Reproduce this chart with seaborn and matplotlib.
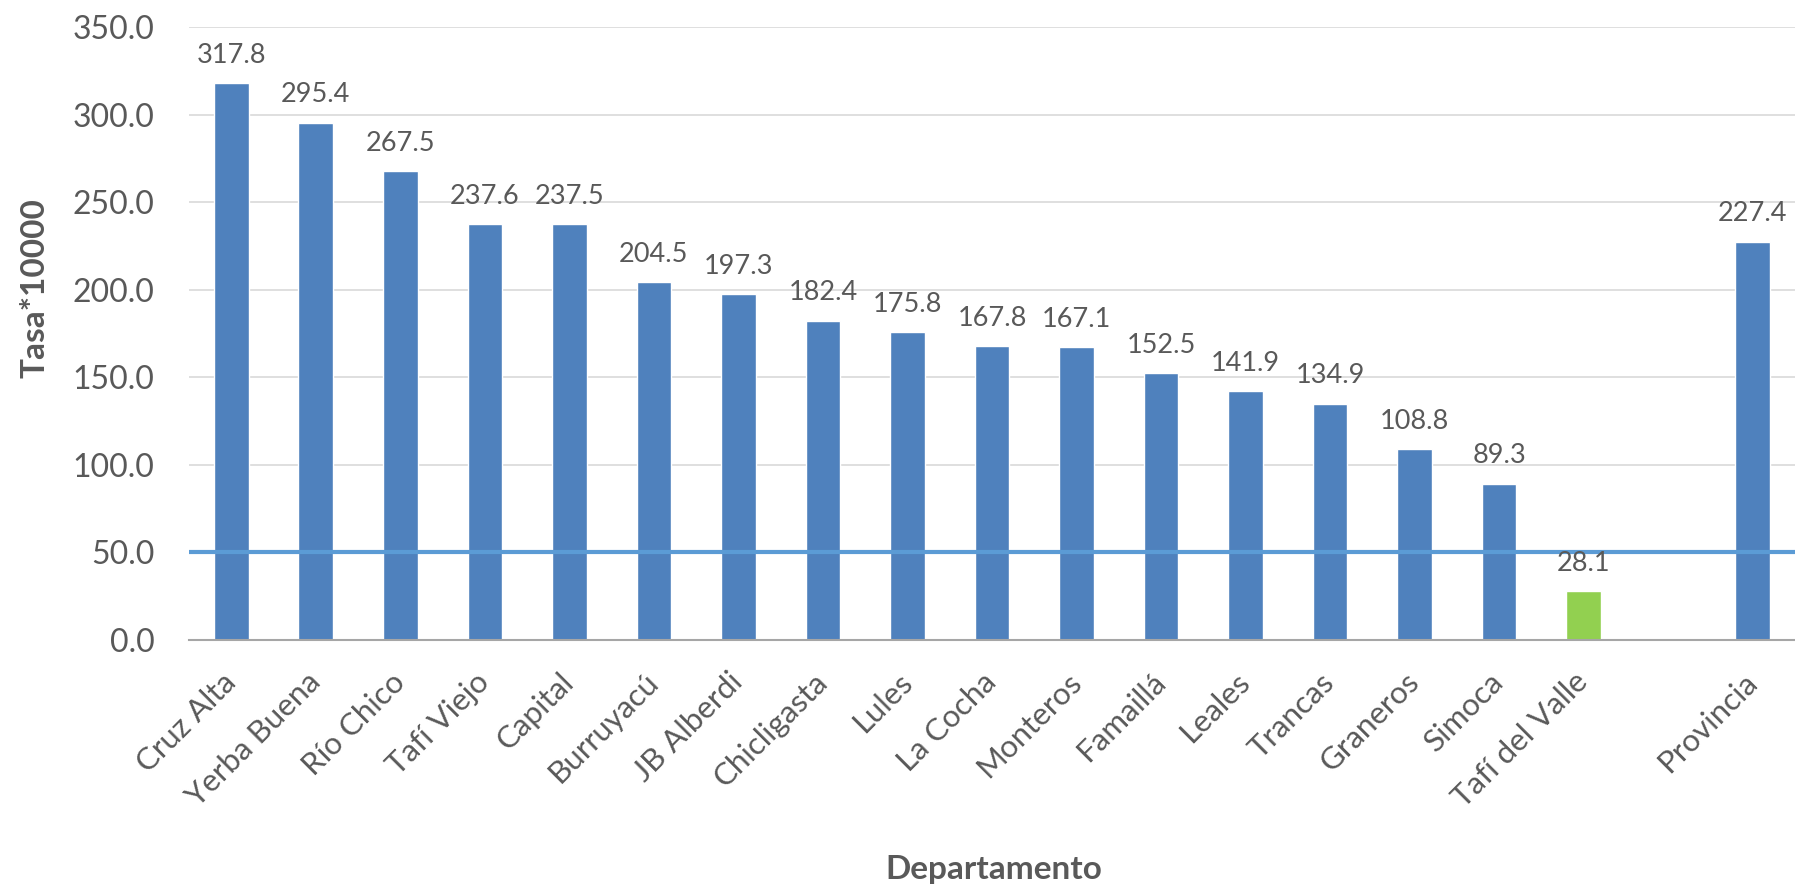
import pandas as pd
import numpy as np
import matplotlib
matplotlib.use("Agg")
import matplotlib.pyplot as plt
import seaborn as sns

departamentos = ["Cruz Alta", "Yerba Buena", "Río Chico", "Tafí Viejo", "Capital",
                 "Burruyacú", "JB Alberdi", "Chicligasta", "Lules", "La Cocha",
                 "Monteros", "Famaillá", "Leales", "Trancas", "Graneros", "Simoca",
                 "Tafí del Valle", "Provincia"]
tasas = [317.8, 295.4, 267.5, 237.6, 237.5, 204.5, 197.3, 182.4, 175.8, 167.8,
         167.1, 152.5, 141.9, 134.9, 108.8, 89.3, 28.1, 227.4]
orden = departamentos[:-1] + [""] + ["Provincia"]
linea_ref = 50.0

azul = "#4F81BD"
verde = "#92D050"
gris = "#595959"
colores = {d: (verde if d == "Tafí del Valle" else azul) for d in departamentos}

data = pd.DataFrame({"Departamento": departamentos, "Tasa": tasas})

sns.set_style("white")
plt.rcParams["font.family"] = ["Lato", "DejaVu Sans"]

fig = plt.figure(figsize=(17.95, 8.85), dpi=100)
ax = fig.add_axes([0.1053, 0.2768, 0.8947, 0.6927])

sns.barplot(data=data, x="Departamento", y="Tasa", hue="Departamento", order=orden,
            palette=colores, width=0.41, legend=False, saturation=1, ax=ax)

ax.axhline(linea_ref, color="#5B9BD5", lw=3, zorder=3)

for d, v in zip(departamentos, tasas):
    ax.annotate(f"{v:.1f}", (orden.index(d), v), xytext=(0, 11), textcoords="offset points",
                ha="center", va="bottom", fontsize=19.5, color=gris)

ax.set_ylim(0, 350)
ax.set_yticks(np.arange(0, 351, 50))
ax.set_yticklabels([f"{t:.1f}" for t in np.arange(0, 351, 50)])
ax.yaxis.grid(True, color="#D9D9D9", lw=1.2)
ax.set_axisbelow(True)
for s in ["top", "right", "left"]:
    ax.spines[s].set_visible(False)
ax.spines["bottom"].set_color("#A6A6A6")
ax.spines["bottom"].set_linewidth(1.5)

ax.tick_params(axis="y", length=0, pad=25, labelsize=23, labelcolor=gris)
ax.tick_params(axis="x", length=0, pad=27, labelsize=22.5, labelcolor=gris)
plt.setp(ax.get_xticklabels(), rotation=45, ha="right", va="center", rotation_mode="anchor")

ax.set_ylabel("Tasa*10000", fontsize=24, fontweight="bold", color=gris)
ax.yaxis.set_label_coords(-0.087, 0.574)
ax.set_xlabel("Departamento", fontsize=24, fontweight="bold", color=gris)
ax.xaxis.set_label_coords(0.501, -0.35)

fig.savefig("out.png", dpi=100)
